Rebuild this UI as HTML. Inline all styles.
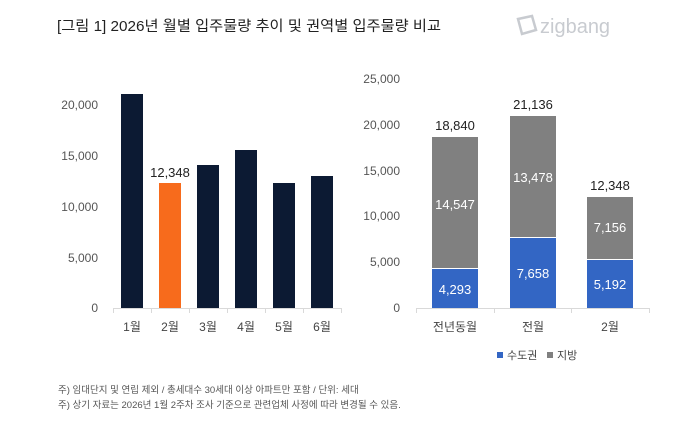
<!DOCTYPE html><html><head><meta charset="utf-8"><style>
body{margin:0;width:680px;height:426px;background:#fff;overflow:hidden;font-family:"Liberation Sans","Noto Sans CJK KR",sans-serif}
</style></head><body>
<svg width="680" height="426" xmlns="http://www.w3.org/2000/svg" font-family="Liberation Sans, Noto Sans CJK KR, sans-serif">
<text x="57" y="31" font-size="14.5" fill="#222" textLength="384" lengthAdjust="spacingAndGlyphs">[그림 1] 2026년 월별 입주물량 추이 및 권역별 입주물량 비교</text>
<g fill="none" stroke="#c8cbd0" stroke-width="2.5"><path d="M518 19 L532 16 L536 30 L522 34 Z"/></g>
<text x="540" y="33" font-size="20" fill="#c8cbd0">zigbang</text>
<g font-size="12" fill="#555" text-anchor="end">
<text x="98" y="312">0</text><text x="98" y="262">5,000</text><text x="98" y="211">10,000</text><text x="98" y="160">15,000</text><text x="98" y="109">20,000</text>
<text x="400" y="312">0</text><text x="400" y="266">5,000</text><text x="400" y="220">10,000</text><text x="400" y="175">15,000</text><text x="400" y="129">20,000</text><text x="400" y="83">25,000</text>
</g>
<g stroke="#d9d9d9" fill="none">
<path d="M113 308.5H341M113.5 308v5M151.5 308v5M189.5 308v5M227.5 308v5M265.5 308v5M303.5 308v5M341.5 308v5"/>
<path d="M416 308.5H649M416.5 308v5M494.5 308v5M571.5 308v5M649.5 308v5"/>
</g>
<g fill="#0c1a33">
<rect x="121" y="94" width="22" height="214"/>
<rect x="197" y="165" width="22" height="143"/>
<rect x="235" y="150" width="22" height="158"/>
<rect x="273" y="183" width="22" height="125"/>
<rect x="311" y="176" width="22" height="132"/>
</g>
<rect x="159" y="183" width="22" height="125" fill="#f76b1c"/>
<text x="170" y="177" font-size="13" fill="#222" text-anchor="middle">12,348</text>
<g font-size="12" fill="#444" text-anchor="middle">
<text x="132" y="331">1월</text><text x="170" y="331">2월</text><text x="208" y="331">3월</text><text x="246" y="331">4월</text><text x="284" y="331">5월</text><text x="322" y="331">6월</text>
<text x="455" y="331">전년동월</text><text x="533" y="331">전월</text><text x="610" y="331">2월</text>
</g>
<g fill="#808080">
<rect x="432" y="137" width="46" height="131"/>
<rect x="510" y="116" width="46" height="121"/>
<rect x="587" y="197" width="46" height="62"/>
</g>
<g fill="#3366c4">
<rect x="432" y="269" width="46" height="39"/>
<rect x="510" y="238" width="46" height="70"/>
<rect x="587" y="260" width="46" height="48"/>
</g>
<g font-size="13" fill="#fff" text-anchor="middle">
<text x="455" y="209">14,547</text><text x="533" y="182">13,478</text><text x="610" y="232">7,156</text>
<text x="455" y="294">4,293</text><text x="533" y="278">7,658</text><text x="610" y="289">5,192</text>
</g>
<g font-size="13" fill="#222" text-anchor="middle">
<text x="455" y="130">18,840</text><text x="533" y="109">21,136</text><text x="610" y="190">12,348</text>
</g>
<rect x="497" y="352" width="6" height="6" fill="#3366c4"/>
<text x="507" y="359" font-size="11" fill="#444">수도권</text>
<rect x="547" y="352" width="6" height="6" fill="#808080"/>
<text x="557" y="359" font-size="11" fill="#444">지방</text>
<g font-size="9.5" fill="#555">
<text x="58" y="393">주) 임대단지 및 연립 제외 / 총세대수 30세대 이상 아파트만 포함 / 단위: 세대</text>
<text x="58" y="408">주) 상기 자료는 2026년 1월 2주차 조사 기준으로 관련업체 사정에 따라 변경될 수 있음.</text>
</g>
</svg>
</body></html>
